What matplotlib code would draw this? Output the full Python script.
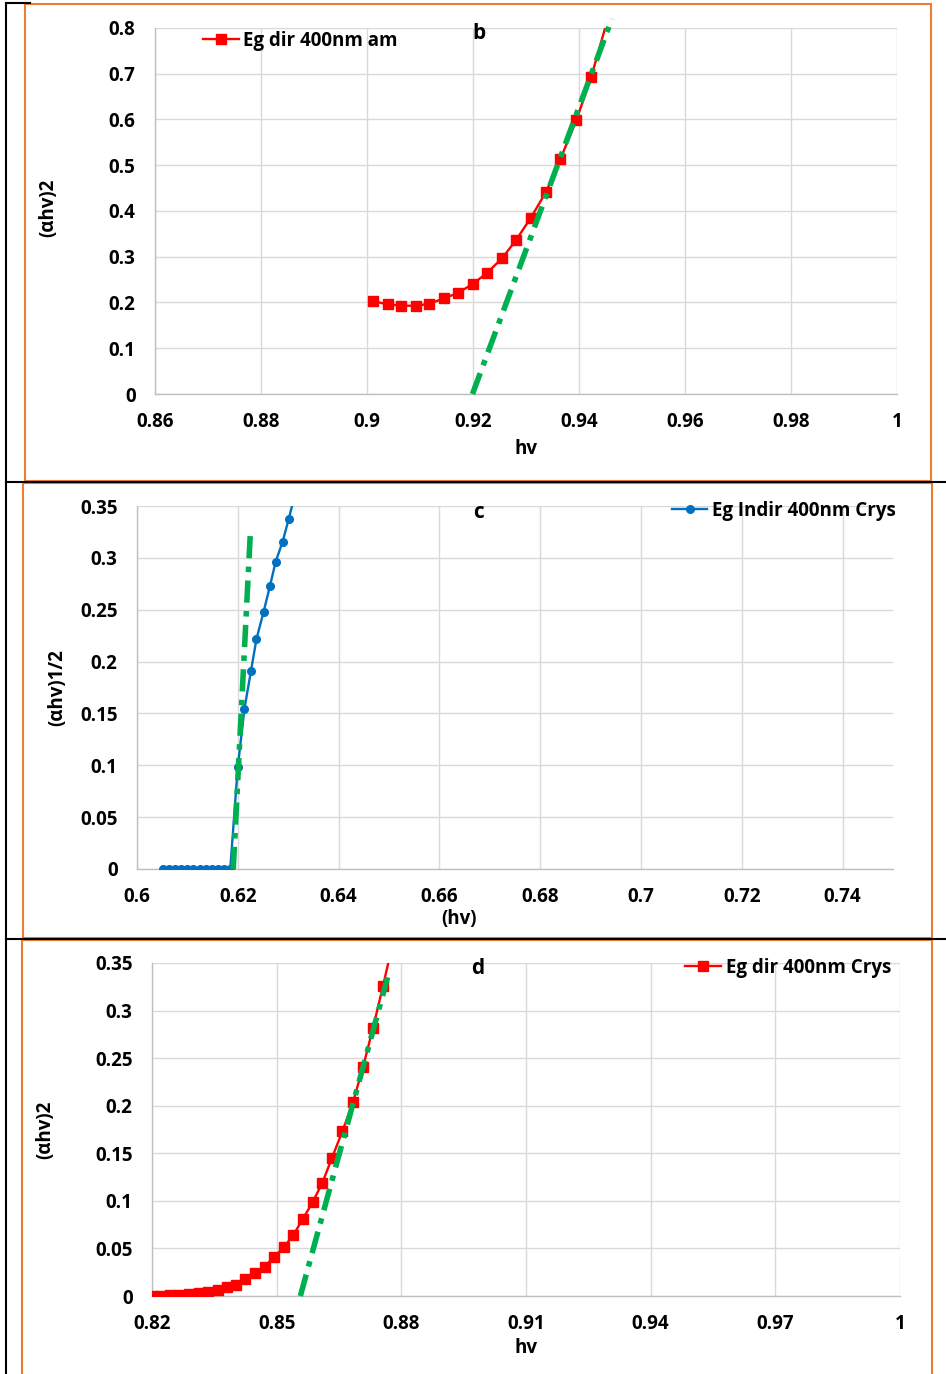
import matplotlib
matplotlib.use('Agg')
import matplotlib.pyplot as plt
from matplotlib.lines import Line2D
from matplotlib.patches import Rectangle

plt.rcParams['font.family'] = ['Open Sans', 'DejaVu Sans']
plt.rcParams['font.weight'] = 'bold'

# ---- data ----
# panel b: Eg dir 400nm am
hv_b = [0.9011, 0.9039, 0.9064, 0.9092, 0.9117, 0.9145, 0.9172, 0.9200, 0.9226,
        0.9255, 0.9281, 0.9309, 0.9338, 0.9365, 0.9395, 0.9423, 0.9453]
ah_b = [0.203, 0.196, 0.193, 0.193, 0.197, 0.209, 0.221, 0.241, 0.264,
        0.297, 0.336, 0.385, 0.442, 0.514, 0.598, 0.693, 0.815]
fit_b_x = [0.9199, 0.9462]
fit_b_y = [0.0, 0.82]

# panel c: Eg Indir 400nm Crys
hv_c = [0.6052, 0.6064, 0.6076, 0.6088, 0.6100, 0.6112, 0.6125, 0.6137, 0.6149,
        0.6161, 0.6173, 0.6185, 0.6200, 0.6213, 0.6226, 0.6237, 0.6251, 0.6264,
        0.6275, 0.6289, 0.6301, 0.6314]
ah_c = [0, 0, 0, 0, 0, 0, 0, 0, 0, 0, 0, 0,
        0.0986, 0.1538, 0.1907, 0.2216, 0.2476, 0.2733, 0.2961, 0.3157, 0.3375, 0.362]
fit_c_x = [0.6191, 0.6225]
fit_c_y = [0.0, 0.325]

# panel d: Eg dir 400nm Crys
hv_d = [0.8202, 0.8222, 0.8243, 0.8265, 0.8290, 0.8312, 0.8334, 0.8358, 0.8380,
        0.8402, 0.8424, 0.8449, 0.8471, 0.8494, 0.8517, 0.8540, 0.8563, 0.8587,
        0.8610, 0.8633, 0.8658, 0.8684, 0.8708, 0.8732, 0.8756, 0.8780]
ah_d = [0.000, 0.0003, 0.0006, 0.001, 0.002, 0.003, 0.004, 0.006, 0.009,
        0.012, 0.018, 0.024, 0.031, 0.041, 0.051, 0.064, 0.081, 0.099,
        0.119, 0.145, 0.173, 0.204, 0.241, 0.282, 0.326, 0.372]
fit_d_x = [0.8557, 0.8767]
fit_d_y = [0.0, 0.335]

ticks_b_x = [0.86, 0.88, 0.9, 0.92, 0.94, 0.96, 0.98, 1]
ticks_b_y = [0, 0.1, 0.2, 0.3, 0.4, 0.5, 0.6, 0.7, 0.8]
ticks_c_x = [0.6, 0.62, 0.64, 0.66, 0.68, 0.7, 0.72, 0.74]
ticks_c_y = [0, 0.05, 0.1, 0.15, 0.2, 0.25, 0.3, 0.35]
ticks_d_x = [0.82, 0.85, 0.88, 0.91, 0.94, 0.97, 1]
ticks_d_y = [0, 0.05, 0.1, 0.15, 0.2, 0.25, 0.3, 0.35]

W, H = 946, 1374
FS = 13.5
fig = plt.figure(figsize=(W / 100, H / 100), dpi=100)


def px_axes(l, t, r, b):
    return fig.add_axes([l / W, 1 - b / H, (r - l) / W, (b - t) / H])


def style(ax, xt, yt, xlim, ylim):
    ax.set_xlim(*xlim)
    ax.set_ylim(*ylim)
    ax.set_xticks(xt)
    ax.set_yticks(yt)
    ax.set_xticklabels(['%g' % v for v in xt])
    ax.set_yticklabels(['%g' % v for v in yt])
    ax.grid(True, color='#d9d9d9', linewidth=1.0)
    ax.set_axisbelow(True)
    for s in ['top', 'right']:
        ax.spines[s].set_visible(False)
    for s in ['left', 'bottom']:
        ax.spines[s].set_color('#bfbfbf')
        ax.spines[s].set_linewidth(1.0)
    ax.tick_params(axis='y', length=0, labelsize=FS, pad=14)
    ax.tick_params(axis='x', length=0, labelsize=FS, pad=13)
    for lab in ax.get_xticklabels() + ax.get_yticklabels():
        lab.set_fontweight('bold')


def fit_line(ax, x, y):
    ax.plot(x, y, color='#00b050', linewidth=4, dashes=(4, 1.5, 1, 1.5),
            solid_capstyle='butt', clip_on=False, zorder=4)


def legend(ax, loc, anchor):
    ax.legend(loc=loc, bbox_to_anchor=anchor, frameon=False, borderpad=0,
              borderaxespad=0, handlelength=1.9, handletextpad=0.25,
              prop={'size': FS, 'weight': 'bold'})


# ---- panel b ----
ax1 = px_axes(155, 28, 897, 394)
style(ax1, ticks_b_x, ticks_b_y, (0.86, 1.0), (0, 0.8))
ax1.plot(hv_b, ah_b, color='#ff0000', linewidth=1.7, marker='s', markersize=6.5,
         label='Eg dir 400nm am', zorder=3)
fit_line(ax1, fit_b_x, fit_b_y)
legend(ax1, 'center left', ((203 - 155) / 742, (394 - 41) / 366))
ax1.text((479 - 155) / 742, (394 - 34) / 366, 'b', transform=ax1.transAxes,
         ha='center', va='center', fontsize=15, fontweight='bold')
fig.text(526 / W, 1 - 449 / H, 'hv', ha='center', va='center', fontsize=FS, fontweight='bold')
fig.text(48 / W, 1 - 208 / H, '(αhv)2', ha='center', va='center', rotation=90,
         fontsize=FS, fontweight='bold')

# ---- panel c ----
ax2 = px_axes(137, 506, 893, 869)
style(ax2, ticks_c_x, ticks_c_y, (0.6, 0.75), (0, 0.35))
ax2.plot(hv_c, ah_c, color='#0070c0', linewidth=1.7, marker='o', markersize=5.5,
         label='Eg Indir 400nm Crys', zorder=3)
fit_line(ax2, fit_c_x, fit_c_y)
legend(ax2, 'center right', ((896 - 137) / 756, (869 - 511) / 363))
ax2.text((478 - 137) / 756, (869 - 513) / 363, 'c', transform=ax2.transAxes,
         ha='center', va='center', fontsize=15, fontweight='bold')
fig.text(459 / W, 1 - 919 / H, '(hv)', ha='center', va='center', fontsize=FS, fontweight='bold')
fig.text(57 / W, 1 - 688 / H, '(αhv)1/2', ha='center', va='center', rotation=90,
         fontsize=FS, fontweight='bold')

# ---- panel d ----
ax3 = px_axes(152, 963, 900, 1296)
style(ax3, ticks_d_x, ticks_d_y, (0.82, 1.0), (0, 0.35))
ax3.plot(hv_d, ah_d, color='#ff0000', linewidth=1.7, marker='s', markersize=6.5,
         label='Eg dir 400nm Crys', zorder=3)
fit_line(ax3, fit_d_x, fit_d_y)
legend(ax3, 'center right', ((891 - 152) / 748, (1296 - 968) / 333))
ax3.text((478 - 152) / 748, (1296 - 969) / 333, 'd', transform=ax3.transAxes,
         ha='center', va='center', fontsize=15, fontweight='bold')
fig.text(526 / W, 1 - 1348 / H, 'hv', ha='center', va='center', fontsize=FS, fontweight='bold')
fig.text(45 / W, 1 - 1130 / H, '(αhv)2', ha='center', va='center', rotation=90,
         fontsize=FS, fontweight='bold')


# ---- table lines and orange chart borders ----
def hline(y, x0, x1, color, lw):
    fig.add_artist(Line2D([x0 / W, x1 / W], [1 - y / H, 1 - y / H], color=color, linewidth=lw))


def vline(x, y0, y1, color, lw):
    fig.add_artist(Line2D([x / W, x / W], [1 - y0 / H, 1 - y1 / H], color=color, linewidth=lw))


vline(6, 3, H, 'black', 1.5)
hline(3, 6, 30, 'black', 1.5)
hline(482, 6, W, 'black', 1.5)
hline(939, 6, W, 'black', 1.5)


def box(l, t, r, b):
    fig.add_artist(Rectangle((l / W, 1 - b / H), (r - l) / W, (b - t) / H,
                             fill=False, edgecolor='#ed7d31', linewidth=1.5))


box(25, 4, 931, 481)
box(23, 483, 932, 938)
box(22, 940, 932, H + 5)

fig.savefig('out.png', dpi=100)
